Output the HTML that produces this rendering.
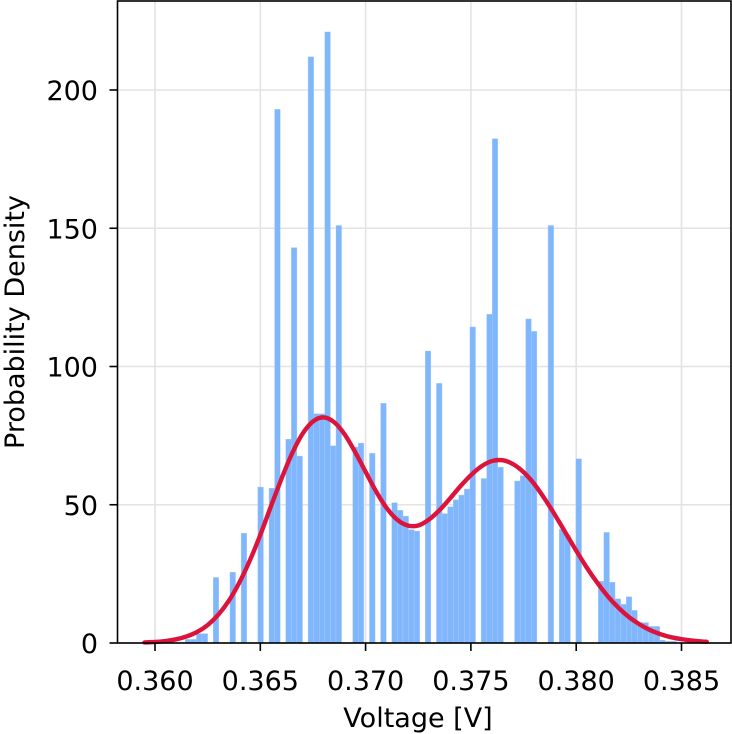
<!DOCTYPE html>
<html>
<head>
<meta charset="utf-8">
<style>
  html, body { margin: 0; padding: 0; background: #fff; }
  svg { display: block; }
  text { font-family: "DejaVu Sans", "Liberation Sans", sans-serif; fill: #000; }
</style>
</head>
<body>
<svg id="chart" width="732" height="734" viewBox="0 0 732 734" xmlns="http://www.w3.org/2000/svg">
  <g id="grid"></g>
  <g id="bars"></g>
  <path id="curve" fill="none" stroke="#dc143c" stroke-width="4.4" stroke-linejoin="round" stroke-linecap="round"></path>
  <g id="axes"></g>
  <text x="418" y="727" font-size="27" text-anchor="middle">Voltage [V]</text>
  <text transform="translate(24,322) rotate(-90)" font-size="27" text-anchor="middle">Probability Density</text>
</svg>
<script>
// ---- data ----
const binStart = 0.361439;
const binWidth = 0.000265;
const binValues = [1.3,1.3,3.4,3.4,0,23.7,0,0,25.6,0,39.7,0,0,56.4,0,56,193,0,73.7,143,67.6,0,212,82.9,82.9,221,71.3,151,0,0,70.9,72.3,0,68.6,0,86.7,0,50.7,48,45.9,41,40.5,0,105.6,0,93.9,46.8,49.3,51.8,53.5,55.7,114.3,0,59.5,118.9,182.4,63.6,0,0,58.6,60.5,117.2,112.7,0,0,151,0,41.1,39,0,66.6,0,0,0,22.3,40,22,16,14,16.7,11.8,7.4,7.4,6,6,1,0.6,0.6];
const curveX = [0.3595,0.3600,0.3605,0.3610,0.3615,0.3620,0.3625,0.3630,0.3635,0.3640,0.3645,0.3650,0.3655,0.3660,0.3665,0.3670,0.3675,0.3680,0.3685,0.3690,0.3695,0.3700,0.3705,0.3710,0.3715,0.3720,0.3725,0.3730,0.3735,0.3740,0.3745,0.3750,0.3755,0.3760,0.3765,0.3770,0.3775,0.3780,0.3785,0.3790,0.3795,0.3800,0.3805,0.3810,0.3815,0.3820,0.3825,0.3830,0.3835,0.3840,0.3845,0.3850,0.3855,0.3860,0.3862];
const curveY = [0.2,0.37,0.72,1.33,2.36,4.0,6.5,10.2,15.2,21.8,29.8,39.1,49.3,59.3,68.4,75.6,80.1,81.6,79.9,75.5,69.1,61.9,54.8,48.8,44.6,42.5,42.5,44.6,48.0,52.2,56.7,60.7,63.9,65.8,66.1,64.7,61.8,57.6,52.2,46.2,39.8,33.4,27.3,21.8,16.9,12.8,9.4,6.8,4.7,3.2,2.1,1.4,0.87,0.53,0.44];
const xTicks = [0.360,0.365,0.370,0.375,0.380,0.385];
const xTickLabels = ["0.360","0.365","0.370","0.375","0.380","0.385"];
const yTicks = [0,50,100,150,200];
const yTickLabels = ["0","50","100","150","200"];

// ---- axes ----
const L = 117.5, R = 731, T = 1, B = 643;
function xs(v){ return 155 + (v - 0.360) * 21060; }
function ys(v){ return 643 - v * 2.765; }
const NS = "http://www.w3.org/2000/svg";
function mk(tag, attrs){ const e = document.createElementNS(NS, tag); for (const k in attrs) e.setAttribute(k, attrs[k]); return e; }

const grid = document.getElementById('grid');
xTicks.forEach(function(t){
  const l = mk('line', {x1: xs(t), x2: xs(t), y1: T, y2: B, stroke: '#e3e3e3', 'stroke-width': 1.6});
  
  
  grid.appendChild(l);
});
yTicks.forEach(function(t){
  const l = mk('line', {x1: L, x2: R, y1: ys(t), y2: ys(t), stroke: '#e3e3e3', 'stroke-width': 1.6});
  
  
  grid.appendChild(l);
});

const bars = document.getElementById('bars');
binValues.forEach(function(v, i){
  if (v <= 0) return;
  const x0 = xs(binStart + i * binWidth), x1 = xs(binStart + (i + 1) * binWidth);
  const r = mk('rect', {x: x0, y: ys(v), width: x1 - x0, height: B - ys(v), fill: '#80b6fb', stroke: '#a8cdfc', 'stroke-width': 0.4});
  
  
  bars.appendChild(r);
});

// smooth curve through sampled points (Catmull-Rom)
const pts = curveX.map(function(v, i){ return [xs(v), ys(curveY[i])]; });
let d = 'M' + pts[0][0] + ',' + pts[0][1];
for (let i = 0; i < pts.length - 1; i++) {
  const p0 = pts[Math.max(0, i - 1)], p1 = pts[i], p2 = pts[i + 1], p3 = pts[Math.min(pts.length - 1, i + 2)];
  const c1x = p1[0] + (p2[0] - p0[0]) / 6, c1y = p1[1] + (p2[1] - p0[1]) / 6;
  const c2x = p2[0] - (p3[0] - p1[0]) / 6, c2y = p2[1] - (p3[1] - p1[1]) / 6;
  d += ' C' + c1x + ',' + c1y + ' ' + c2x + ',' + c2y + ' ' + p2[0] + ',' + p2[1];
}
document.getElementById('curve').setAttribute('d', d);

const axes = document.getElementById('axes');
const frame = mk('rect', {x: L, y: T, width: R - L, height: B - T, fill: 'none', stroke: '#000', 'stroke-width': 1.6});


axes.appendChild(frame);

xTicks.forEach(function(t, i){
  const tk = mk('line', {x1: xs(t), x2: xs(t), y1: B, y2: B + 8, stroke: '#000', 'stroke-width': 1.6});
  
  
  axes.appendChild(tk);
  const tx = mk('text', {x: xs(t), y: 690, 'font-size': 27, 'text-anchor': 'middle'});
  tx.textContent = xTickLabels[i];
  
  
  axes.appendChild(tx);
});
yTicks.forEach(function(t, i){
  const tk = mk('line', {x1: L - 8, x2: L, y1: ys(t), y2: ys(t), stroke: '#000', 'stroke-width': 1.6});
  
  
  axes.appendChild(tk);
  const tx = mk('text', {x: 98, y: ys(t) + 10, 'font-size': 27, 'text-anchor': 'end'});
  tx.textContent = yTickLabels[i];
  
  
  axes.appendChild(tx);
});
</script>
</body>
</html>
